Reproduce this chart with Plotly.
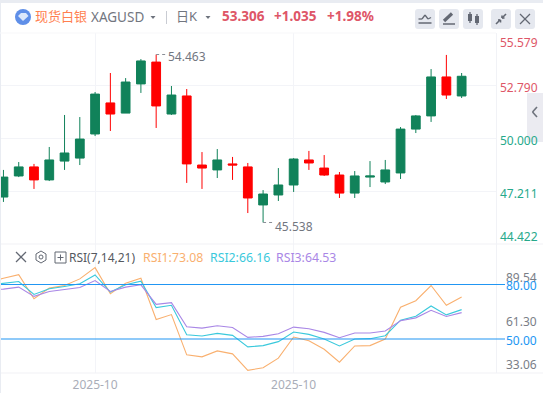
import plotly.graph_objects as go

# ---------- data ----------
index = list(range(31))
opens = [46.89,48.01,48.49,47.80,48.80,48.96,50.24,51.89,51.35,52.90,54.06,51.30,52.26,48.59,48.33,48.65,48.49,46.47,47.00,47.53,48.86,48.43,48.06,47.10,47.95,47.69,48.17,50.50,51.20,53.27,52.26]
closes = [47.95,48.49,47.80,48.86,49.23,49.97,52.36,51.30,53.00,54.12,51.73,52.31,48.65,48.43,48.86,48.59,46.84,47.05,47.53,48.91,48.70,48.06,47.10,48.01,48.01,48.33,50.50,51.20,53.27,52.31,53.306]
highs = [48.33,48.75,48.65,49.55,51.25,51.14,52.47,53.48,53.21,54.22,54.463,52.79,52.63,49.28,49.44,49.02,48.70,47.26,48.43,48.96,49.34,49.12,48.22,48.27,48.80,48.86,50.61,51.25,53.69,54.44,53.48]
lows = [46.63,47.95,47.32,47.74,48.33,48.59,50.13,50.40,51.35,52.42,50.56,51.25,47.64,47.32,47.90,47.80,46.04,45.538,46.68,47.16,48.33,48.01,46.84,46.84,47.42,47.58,47.85,50.29,50.88,52.10,52.15]

rsi_index = [-1] + index
rsi1 = [81.0,83.45,85.45,72.18,78.00,79.45,83.09,89.27,74.91,80.73,83.45,60.72,63.45,41.27,40.18,43.45,41.81,32.72,34.18,39.45,51.09,49.09,44.36,37.27,46.18,46.36,50.00,67.45,71.09,79.45,68.54,73.08]
rsi2 = [79.6,80.73,81.64,74.54,77.64,78.91,80.36,85.27,75.82,79.82,81.82,67.27,68.54,52.36,51.63,53.09,52.00,45.64,46.36,48.54,53.82,52.54,50.00,46.18,50.00,50.18,51.82,60.36,62.54,68.18,63.27,66.16]
rsi3 = [76.9,77.45,78.54,73.45,76.18,77.09,78.36,82.18,76.18,78.54,79.82,69.09,70.00,56.72,56.00,57.27,56.36,50.91,51.45,52.91,56.54,55.63,53.63,50.73,53.27,53.27,54.36,60.00,61.63,65.82,62.36,64.53]

price_ticks = [52.790, 50.000, 47.211]
rsi_levels = [80.0, 50.0]
date_tick_pos = [6, 19]
date_tick_text = ["2025-10", "2025-10"]

# ---------- layout constants ----------
W, H = 543, 393
L, R, T, B = 1, 47, 33, 20
PW, PH = W - L - R, H - T - B
SPLIT = 244
FONT = "Noto Sans, Noto Sans CJK SC, sans-serif"
GREEN, RED = "#11825A", "#FF0000"
LBL_RED, LBL_GREEN = "#DE5667", "#26A98B"
GRID = "#F3F4F8"
BLUE = "#2196F3"
ORANGE, CYAN, PURPLE = "#F9B06F", "#3AC9DC", "#A987E6"
GREY = "#72767F"
ICON = "#636873"
BTN = "#E5E8EF"

fx = lambda px: (px - L) / PW
fy = lambda py: (H - B - py) / PH


def rect(x0, y0, x1, y1, fill, layer="above", opacity=1):
    return dict(type="rect", xref="paper", yref="paper", x0=fx(x0), x1=fx(x1), y0=fy(y0), y1=fy(y1),
                fillcolor=fill, line_width=0, layer=layer, opacity=opacity)


def seg(x0, y0, x1, y1, color=ICON, width=1.3):
    return dict(type="line", xref="paper", yref="paper", x0=fx(x0), x1=fx(x1), y0=fy(y0), y1=fy(y1),
                line=dict(color=color, width=width), layer="above")


def label(px, py, text, color, size=12, anchor="left", weight=None):
    t = f"<b>{text}</b>" if weight else text
    return dict(xref="paper", yref="paper", x=fx(px), y=fy(py), text=t, showarrow=False, xanchor=anchor,
                yanchor="middle", font=dict(family=FONT, size=size, color=color), borderpad=0, borderwidth=0)


fig = go.Figure()
fig.add_trace(go.Candlestick(
    x=index, open=opens, high=highs, low=lows, close=closes, xaxis="x", yaxis="y",
    increasing=dict(line=dict(color=GREEN, width=1), fillcolor=GREEN),
    decreasing=dict(line=dict(color=RED, width=1), fillcolor=RED),
    whiskerwidth=0, hoverinfo="skip", showlegend=False))
for vals, col in ((rsi1, ORANGE), (rsi2, CYAN), (rsi3, PURPLE)):
    fig.add_trace(go.Scatter(x=rsi_index, y=vals, mode="lines", xaxis="x", yaxis="y2",
                             line=dict(color=col, width=1.1), hoverinfo="skip", showlegend=False))

shapes = []
# page chrome
shapes += [rect(0, 0, W, 3, "#E9ECF2"), rect(0, 0, 1, H, "#E9ECF2"), rect(0, 32.5, 496, 33.5, "#F7F8FA"),
           rect(1, 243.5, 543, 244.5, "#F1F2F6"), rect(1, 372.5, 543, 373.5, "#F1F2F6"),
           rect(496, 33, 497, 373, "#F1F2F6", layer="below")]
# RSI levels reach past the plot into the axis gutter
for lv in rsi_levels:
    shapes.append(dict(type="line", xref="x domain", yref="y2", x0=0, x1=(505 - L) / PW, y0=lv, y1=lv,
                       line=dict(color=BLUE, width=1.2), layer="above"))
# extreme price leaders
shapes.append(dict(type="line", xref="x", yref="y", x0=10, x1=10.6, y0=max(highs), y1=max(highs),
                   line=dict(color="#8A8E96", width=1, dash="dot")))
shapes.append(dict(type="line", xref="x", yref="y", x0=17, x1=17.6, y0=min(lows), y1=min(lows),
                   line=dict(color="#8A8E96", width=1, dash="dot")))
# collapse handle
shapes.append(rect(527, 93, 543, 142, "#E9E9F0", opacity=0.9))
shapes += [seg(537, 107, 532.5, 112, "#6E737D", 1.6), seg(532.5, 112, 537, 117, "#6E737D", 1.6)]
# logo
shapes.append(dict(type="circle", xref="paper", yref="paper", x0=fx(15), x1=fx(31), y0=fy(9), y1=fy(25),
                   fillcolor="#5F8FE8", line_width=0, layer="above"))
shapes.append(dict(type="path", xref="paper", yref="paper",
                   path=f"M {fx(18)} {fy(16)} L {fx(21)} {fy(13)} L {fx(26)} {fy(13)} L {fx(28.5)} {fy(16)} L {fx(23)} {fy(21)} Z",
                   fillcolor="#DCE8FB", line_width=0, layer="above"))
# header carets
for cx in (153, 208):
    shapes.append(dict(type="path", xref="paper", yref="paper",
                       path=f"M {fx(cx-2.5)} {fy(16)} L {fx(cx+2.5)} {fy(16)} L {fx(cx)} {fy(19)} Z",
                       fillcolor="#6E737D", line_width=0, layer="above"))
shapes.append(rect(166, 11, 167, 24, "#C9CCD3"))
# toolbar buttons
for x0 in (415, 439, 463, 491, 515):
    shapes.append(dict(type="path", xref="paper", yref="paper", layer="above", fillcolor=BTN, line_width=0,
                       path=(f"M {fx(x0+3)} {fy(9)} L {fx(x0+17)} {fy(9)} Q {fx(x0+20)} {fy(9)} {fx(x0+20)} {fy(12)} "
                             f"L {fx(x0+20)} {fy(26)} Q {fx(x0+20)} {fy(29)} {fx(x0+17)} {fy(29)} L {fx(x0+3)} {fy(29)} "
                             f"Q {fx(x0)} {fy(29)} {fx(x0)} {fy(26)} L {fx(x0)} {fy(12)} Q {fx(x0)} {fy(9)} {fx(x0+3)} {fy(9)} Z")))
# icon: line chart
shapes += [seg(418.5, 19, 422, 19), seg(422, 19, 425, 15), seg(425, 15, 428, 19), seg(428, 19, 431, 17.5),
           seg(418.5, 23, 431.5, 23, width=1.5)]
# icon: pencil
shapes += [seg(444, 21, 452, 13.5, width=3.2), seg(443, 24, 455, 24, width=1.5)]
# icon: candles
shapes += [rect(468, 14, 472, 21, ICON), seg(470, 12, 470, 23), rect(475, 16, 479, 23, ICON), seg(477, 14, 477, 25)]
# icon: collapse arrows
shapes += [seg(496, 24, 500, 20, width=1.6), seg(498, 20, 500.5, 20, width=1.6), seg(500.5, 20, 500.5, 22.5, width=1.6),
           seg(506, 14, 502, 18, width=1.6), seg(502, 15.5, 502, 18, width=1.6), seg(502, 18, 504.5, 18, width=1.6)]
# icon: close
shapes += [seg(520, 14, 530, 24), seg(530, 14, 520, 24)]
# RSI toolbar icons
shapes += [seg(16, 252, 26, 262), seg(26, 252, 16, 262)]
shapes.append(dict(type="path", xref="paper", yref="paper", layer="above", fillcolor="rgba(0,0,0,0)",
                   line=dict(color=ICON, width=1),
                   path=f"M {fx(41)} {fy(251)} L {fx(46)} {fy(254)} L {fx(46)} {fy(260)} L {fx(41)} {fy(263)} L {fx(36)} {fy(260)} L {fx(36)} {fy(254)} Z"))
shapes.append(dict(type="circle", xref="paper", yref="paper", x0=fx(39), x1=fx(43), y0=fy(255), y1=fy(259),
                   fillcolor="rgba(0,0,0,0)", line=dict(color=ICON, width=1), layer="above"))
shapes.append(dict(type="rect", xref="paper", yref="paper", x0=fx(55), x1=fx(66), y0=fy(252), y1=fy(263),
                   fillcolor="rgba(0,0,0,0)", line=dict(color=ICON, width=1), layer="above"))
shapes += [seg(57.5, 257.5, 63.5, 257.5, width=1), seg(60.5, 254.5, 60.5, 260.5, width=1)]

annotations = [
    label(35, 16, "现货白银", "#FF7F50", size=13),
    label(90.5, 17.5, "XAGUSD", GREY, size=13.5),
    label(176, 16, "日K", GREY, size=13),
    label(221.5, 16.5, "53.306", LBL_RED, size=13.5, weight=True),
    label(274, 16.5, "+1.035", LBL_RED, size=13.5, weight=True),
    label(327, 16.5, "+1.98%", LBL_RED, size=13.5, weight=True),
    label(500, 42, "55.579", LBL_RED),
    label(500, 87.5, "52.790", LBL_RED),
    label(500, 140, "50.000", LBL_GREEN),
    label(500, 193, "47.211", LBL_GREEN),
    label(500, 236, "44.422", LBL_GREEN),
    label(506, 277.5, "89.54", "#7A7E87"),
    label(506, 285.5, "80.00", BLUE),
    label(506, 321.5, "61.30", "#7A7E87"),
    label(506, 340.5, "50.00", BLUE),
    label(506, 364.5, "33.06", "#7A7E87"),
    label(69, 257, "RSI(7,14,21)", "#55595F", size=12),
    label(143, 257, "RSI1:73.08", ORANGE, size=12.3),
    label(210, 257, "RSI2:66.16", CYAN, size=12.3),
    label(276, 257, "RSI3:64.53", PURPLE, size=12.3),
    dict(xref="x", yref="y", x=10.62, y=max(highs), text=f"{max(highs):.3f}", showarrow=False, xanchor="left",
         yanchor="middle", yshift=-2, font=dict(family=FONT, size=12, color=GREY)),
    dict(xref="x", yref="y", x=17.62, y=min(lows), text=f"{min(lows):.3f}", showarrow=False, xanchor="left",
         yanchor="middle", yshift=-4, font=dict(family=FONT, size=12, color=GREY)),
]

fig.update_layout(
    width=W, height=H, margin=dict(l=L, r=R, t=T, b=B), paper_bgcolor="white", plot_bgcolor="white",
    showlegend=False, boxgap=0.18, shapes=shapes, annotations=annotations,
    xaxis=dict(domain=[0, 1], range=[-0.16, 32.25], anchor="y2", rangeslider=dict(visible=False),
               tickmode="array", tickvals=date_tick_pos, ticktext=date_tick_text, showgrid=True, gridcolor=GRID,
               gridwidth=1, ticks="outside", ticklen=1, tickcolor="rgba(0,0,0,0)", showline=False, zeroline=False,
               tickfont=dict(family=FONT, size=12, color="#A9ADB8")),
    yaxis=dict(domain=[fy(SPLIT), 1], range=[44.395, 55.605], tickmode="array", tickvals=price_ticks,
               showticklabels=False, showgrid=True, gridcolor=GRID, gridwidth=1, zeroline=False, ticks="", fixedrange=True),
    yaxis2=dict(domain=[0, fy(SPLIT)], range=[31.28, 102.29], tickmode="array", tickvals=[], showticklabels=False,
                showgrid=False, zeroline=False, ticks="", fixedrange=True),
)

fig.write_html("out.html", post_script="document.body.style.margin='0';document.body.style.overflow='hidden';",
               config={"displayModeBar": False})
